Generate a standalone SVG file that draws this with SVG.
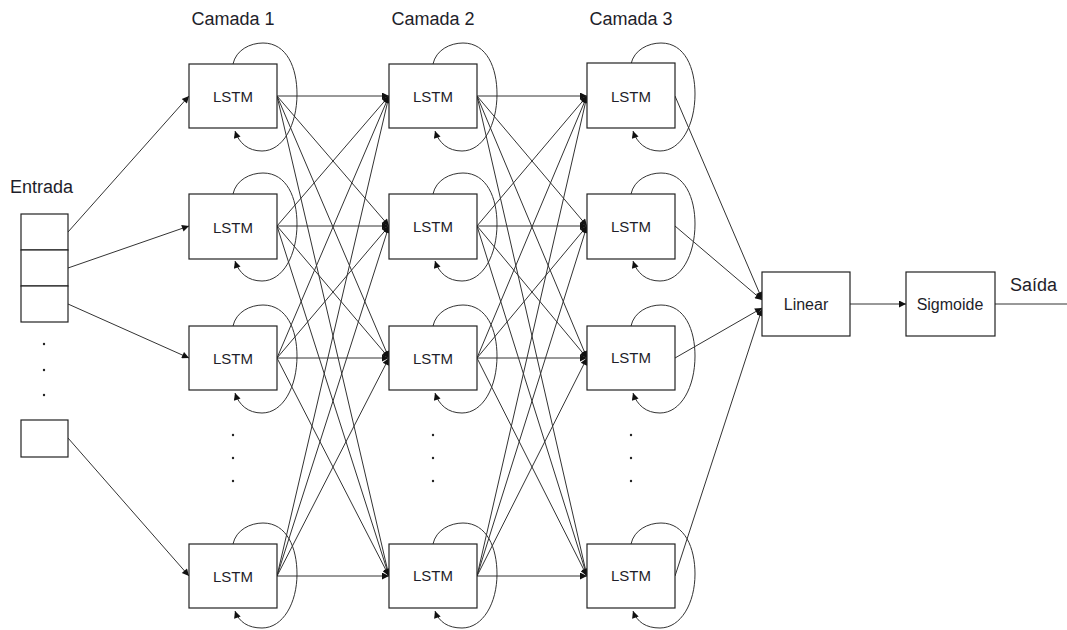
<svg xmlns="http://www.w3.org/2000/svg" width="1067" height="630" viewBox="0 0 1067 630">
  <style>
    .box { fill: #ffffff; stroke: #222222; stroke-width: 1.2; }
    .lbl { font-family: "Liberation Sans", Arial, sans-serif; font-size: 15px; fill: #1e1e2a; text-anchor: middle; }
    .head { font-family: "Liberation Sans", Arial, sans-serif; font-size: 18px; fill: #1e1e2a; }
    .edge { fill: none; stroke: #333333; stroke-width: 1; marker-end: url(#ah); }
    .plain { fill: none; stroke: #333333; stroke-width: 1; }
    .loop { fill: none; stroke: #333333; stroke-width: 1; marker-end: url(#ah); }
    .dot { fill: #222222; }
  </style>
  <defs>
    <marker id="ah" viewBox="0 0 10 10" refX="10" refY="5" markerWidth="9" markerHeight="7" markerUnits="userSpaceOnUse" orient="auto">
      <path d="M0,0 L10,5 L0,10 z" fill="#111111"/>
    </marker>
  </defs>
  <rect width="1067" height="630" fill="#ffffff"/>

  <!-- layer headings -->
  <text class="head" x="233" y="25" text-anchor="middle">Camada 1</text>
  <text class="head" x="433" y="25" text-anchor="middle">Camada 2</text>
  <text class="head" x="631" y="25" text-anchor="middle">Camada 3</text>

  <!-- connectors -->
  <g id="connectors">
    <!-- input vector to layer 1 -->
    <line class="edge" x1="68" y1="232" x2="189" y2="96"/>
    <line class="edge" x1="68" y1="268" x2="189" y2="226"/>
    <line class="edge" x1="68" y1="304" x2="189" y2="358"/>
    <line class="edge" x1="68" y1="438" x2="189" y2="576"/>

    <!-- layer 1 to layer 2 (fully connected) -->
    <line class="edge" x1="277" y1="96" x2="389" y2="96"/>
    <line class="edge" x1="277" y1="96" x2="389" y2="226"/>
    <line class="edge" x1="277" y1="96" x2="389" y2="358"/>
    <line class="edge" x1="277" y1="96" x2="389" y2="576"/>
    <line class="edge" x1="277" y1="226" x2="389" y2="96"/>
    <line class="edge" x1="277" y1="226" x2="389" y2="226"/>
    <line class="edge" x1="277" y1="226" x2="389" y2="358"/>
    <line class="edge" x1="277" y1="226" x2="389" y2="576"/>
    <line class="edge" x1="277" y1="358" x2="389" y2="96"/>
    <line class="edge" x1="277" y1="358" x2="389" y2="226"/>
    <line class="edge" x1="277" y1="358" x2="389" y2="358"/>
    <line class="edge" x1="277" y1="358" x2="389" y2="576"/>
    <line class="edge" x1="277" y1="576" x2="389" y2="96"/>
    <line class="edge" x1="277" y1="576" x2="389" y2="226"/>
    <line class="edge" x1="277" y1="576" x2="389" y2="358"/>
    <line class="edge" x1="277" y1="576" x2="389" y2="576"/>

    <!-- layer 2 to layer 3 (fully connected) -->
    <line class="edge" x1="477" y1="96" x2="587" y2="96"/>
    <line class="edge" x1="477" y1="96" x2="587" y2="226"/>
    <line class="edge" x1="477" y1="96" x2="587" y2="358"/>
    <line class="edge" x1="477" y1="96" x2="587" y2="576"/>
    <line class="edge" x1="477" y1="226" x2="587" y2="96"/>
    <line class="edge" x1="477" y1="226" x2="587" y2="226"/>
    <line class="edge" x1="477" y1="226" x2="587" y2="358"/>
    <line class="edge" x1="477" y1="226" x2="587" y2="576"/>
    <line class="edge" x1="477" y1="358" x2="587" y2="96"/>
    <line class="edge" x1="477" y1="358" x2="587" y2="226"/>
    <line class="edge" x1="477" y1="358" x2="587" y2="358"/>
    <line class="edge" x1="477" y1="358" x2="587" y2="576"/>
    <line class="edge" x1="477" y1="576" x2="587" y2="96"/>
    <line class="edge" x1="477" y1="576" x2="587" y2="226"/>
    <line class="edge" x1="477" y1="576" x2="587" y2="358"/>
    <line class="edge" x1="477" y1="576" x2="587" y2="576"/>

    <!-- layer 3 to linear -->
    <line class="edge" x1="675" y1="96" x2="762" y2="299"/>
    <line class="edge" x1="675" y1="226" x2="762" y2="300"/>
    <line class="edge" x1="675" y1="358" x2="762" y2="308"/>
    <line class="edge" x1="675" y1="576" x2="762" y2="309"/>

    <!-- linear to sigmoid, and output -->
    <line class="edge" x1="850" y1="304" x2="906" y2="304"/>
    <line class="plain" x1="995" y1="304" x2="1067" y2="304"/>

    <!-- recurrent self-loops, layer 1 -->
    <path class="loop" d="M233,64 C236,50 250,43 263,43 C287,43 297,68 297,94 C297,125 283,151 262,151 C248,151 239,143 235,131"/>
    <path class="loop" d="M233,194 C236,180 250,173 263,173 C287,173 297,198 297,224 C297,255 283,281 262,281 C248,281 239,273 235,261"/>
    <path class="loop" d="M233,326 C236,312 250,305 263,305 C287,305 297,330 297,356 C297,387 283,413 262,413 C248,413 239,405 235,393"/>
    <path class="loop" d="M233,544 C236,530 250,523 263,523 C287,523 297,548 297,574 C297,603 283,628 262,628 C248,628 239,622 235,611"/>
    <!-- recurrent self-loops, layer 2 -->
    <path class="loop" d="M433,64 C436,50 450,43 463,43 C487,43 497,68 497,94 C497,125 483,151 462,151 C448,151 439,143 435,131"/>
    <path class="loop" d="M433,194 C436,180 450,173 463,173 C487,173 497,198 497,224 C497,255 483,281 462,281 C448,281 439,273 435,261"/>
    <path class="loop" d="M433,326 C436,312 450,305 463,305 C487,305 497,330 497,356 C497,387 483,413 462,413 C448,413 439,405 435,393"/>
    <path class="loop" d="M433,544 C436,530 450,523 463,523 C487,523 497,548 497,574 C497,603 483,628 462,628 C448,628 439,622 435,611"/>
    <!-- recurrent self-loops, layer 3 -->
    <path class="loop" d="M631,64 C634,50 648,43 661,43 C685,43 695,68 695,94 C695,125 681,151 660,151 C646,151 637,143 633,131"/>
    <path class="loop" d="M631,194 C634,180 648,173 661,173 C685,173 695,198 695,224 C695,255 681,281 660,281 C646,281 637,273 633,261"/>
    <path class="loop" d="M631,326 C634,312 648,305 661,305 C685,305 695,330 695,356 C695,387 681,413 660,413 C646,413 637,405 633,393"/>
    <path class="loop" d="M631,544 C634,530 648,523 661,523 C685,523 695,548 695,574 C695,603 681,628 660,628 C646,628 637,622 633,611"/>
  </g>

  <!-- input vector -->
  <g id="entrada">
    <text class="head" x="10" y="193">Entrada</text>
    <rect class="box" x="21" y="214" width="47" height="36"/>
    <rect class="box" x="21" y="250" width="47" height="36"/>
    <rect class="box" x="21" y="286" width="47" height="36"/>
    <circle class="dot" cx="44" cy="344" r="1.2"/>
    <circle class="dot" cx="44" cy="370" r="1.2"/>
    <circle class="dot" cx="44" cy="395" r="1.2"/>
    <rect class="box" x="21" y="420" width="47" height="37"/>
  </g>

  <!-- layer 1 -->
  <g id="l1n1"><rect class="box" x="189" y="64" width="88" height="64"/><text class="lbl" x="233" y="102">LSTM</text></g>
  <g id="l1n2"><rect class="box" x="189" y="194" width="88" height="65"/><text class="lbl" x="233" y="233">LSTM</text></g>
  <g id="l1n3"><rect class="box" x="189" y="326" width="88" height="64"/><text class="lbl" x="233" y="364">LSTM</text></g>
  <g id="l1dots"><circle class="dot" cx="233" cy="435" r="1.2"/><circle class="dot" cx="233" cy="458" r="1.2"/><circle class="dot" cx="233" cy="481" r="1.2"/></g>
  <g id="l1n4"><rect class="box" x="189" y="544" width="88" height="64"/><text class="lbl" x="233" y="582">LSTM</text></g>

  <!-- layer 2 -->
  <g id="l2n1"><rect class="box" x="389" y="64" width="88" height="64"/><text class="lbl" x="433" y="102">LSTM</text></g>
  <g id="l2n2"><rect class="box" x="389" y="194" width="88" height="65"/><text class="lbl" x="433" y="232">LSTM</text></g>
  <g id="l2n3"><rect class="box" x="389" y="326" width="88" height="64"/><text class="lbl" x="433" y="364">LSTM</text></g>
  <g id="l2dots"><circle class="dot" cx="433" cy="435" r="1.2"/><circle class="dot" cx="433" cy="458" r="1.2"/><circle class="dot" cx="433" cy="481" r="1.2"/></g>
  <g id="l2n4"><rect class="box" x="389" y="544" width="88" height="64"/><text class="lbl" x="433" y="581">LSTM</text></g>

  <!-- layer 3 -->
  <g id="l3n1"><rect class="box" x="587" y="63" width="88" height="65"/><text class="lbl" x="631" y="102">LSTM</text></g>
  <g id="l3n2"><rect class="box" x="587" y="194" width="88" height="65"/><text class="lbl" x="631" y="232">LSTM</text></g>
  <g id="l3n3"><rect class="box" x="587" y="326" width="88" height="64"/><text class="lbl" x="631" y="363">LSTM</text></g>
  <g id="l3dots"><circle class="dot" cx="631" cy="435" r="1.2"/><circle class="dot" cx="631" cy="458" r="1.2"/><circle class="dot" cx="631" cy="481" r="1.2"/></g>
  <g id="l3n4"><rect class="box" x="587" y="544" width="88" height="64"/><text class="lbl" x="631" y="581">LSTM</text></g>

  <!-- output head -->
  <g id="linear"><rect class="box" x="762" y="272" width="88" height="64"/><text class="lbl" x="806" y="310" style="font-size:16px">Linear</text></g>
  <g id="sigmoide"><rect class="box" x="906" y="272" width="89" height="64"/><text class="lbl" x="950" y="310" style="font-size:16px">Sigmoide</text></g>
  <g id="saida"><text class="head" x="1010" y="291">Saída</text></g>
</svg>
